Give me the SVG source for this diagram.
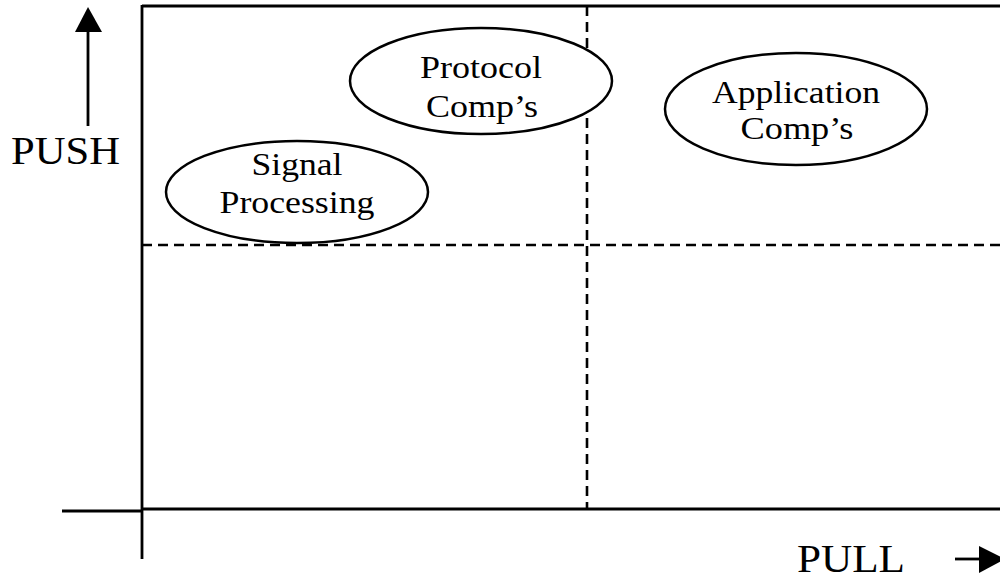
<svg xmlns="http://www.w3.org/2000/svg" width="1000" height="579" viewBox="0 0 1000 579">
<style>
.ln{stroke:#000;stroke-width:2.8;fill:none}
.dash{stroke:#000;stroke-width:2.6;fill:none;stroke-dasharray:10 6}
.el{stroke:#000;stroke-width:2.5;fill:#fff}
.t{font-family:"Liberation Serif","Times New Roman",serif;font-size:32px;fill:#000;text-anchor:middle}
.ax{font-family:"Liberation Serif","Times New Roman",serif;font-size:39px;fill:#000}
</style>
<rect width="1000" height="579" fill="#fff"/>
<g id="axes">
<line class="ln" x1="142" y1="6" x2="1000" y2="6"/>
<line class="ln" x1="142" y1="5" x2="142" y2="559"/>
<line class="ln" x1="142" y1="509" x2="1000" y2="509"/>
<line class="ln" x1="62" y1="511" x2="142" y2="511"/>
<line class="dash" x1="142" y1="245" x2="1000" y2="245"/>
<line class="dash" x1="587" y1="6" x2="587" y2="509"/>
</g>
<g id="push">
<line class="ln" x1="88" y1="30" x2="88" y2="126"/>
<polygon points="88,7 75,32 102,32" fill="#000"/>
<text class="ax" x="11" y="164" textLength="109" lengthAdjust="spacingAndGlyphs">PUSH</text>
</g>
<g id="pull">
<line class="ln" x1="955" y1="559" x2="982" y2="559"/>
<polygon points="979,546 1005,559 979,573" fill="#000"/>
<text class="ax" x="797" y="572" textLength="108" lengthAdjust="spacingAndGlyphs">PULL</text>
</g>
<g id="signal">
<ellipse class="el" cx="297" cy="192" rx="131" ry="51"/>
<text class="t" x="297" y="175" textLength="91" lengthAdjust="spacingAndGlyphs">Signal</text>
<text class="t" x="297" y="213" textLength="155" lengthAdjust="spacingAndGlyphs">Processing</text>
</g>
<g id="protocol">
<ellipse class="el" cx="481" cy="81" rx="131" ry="53"/>
<text class="t" x="481" y="78" textLength="122" lengthAdjust="spacingAndGlyphs">Protocol</text>
<text class="t" x="482" y="117" textLength="112" lengthAdjust="spacingAndGlyphs">Comp’s</text>
</g>
<g id="application">
<ellipse class="el" cx="796" cy="109" rx="131" ry="56"/>
<text class="t" x="796" y="103" textLength="168" lengthAdjust="spacingAndGlyphs">Application</text>
<text class="t" x="797" y="139" textLength="113" lengthAdjust="spacingAndGlyphs">Comp’s</text>
</g>
</svg>
